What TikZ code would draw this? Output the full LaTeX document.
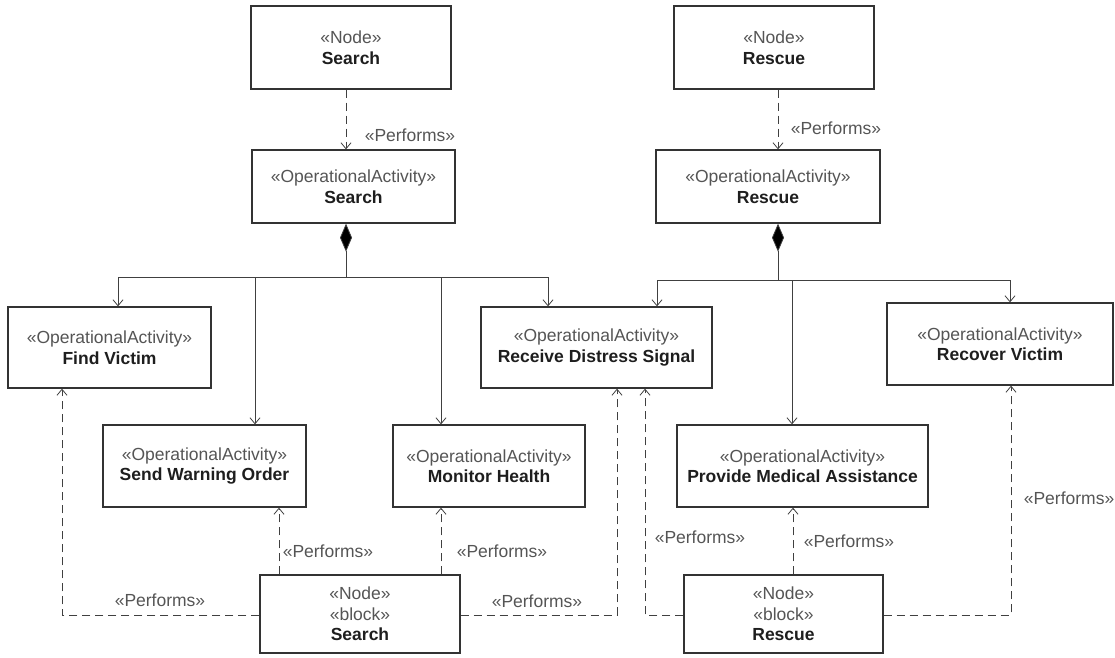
\documentclass[tikz,border=0pt]{standalone}
\usepackage{fontspec}
\setmainfont{Liberation Sans}
\usetikzlibrary{arrows.meta}
\definecolor{boxline}{HTML}{333333}
\definecolor{conline}{HTML}{404040}
\definecolor{stereo}{HTML}{555555}
\definecolor{nametext}{HTML}{1E1E1E}
\newcommand{\st}[1]{{\color{stereo}#1}}
\newcommand{\nm}[1]{{\color{nametext}\bfseries #1}}
\tikzset{
  elem/.style={draw=boxline, line width=1.3pt, fill=white, rectangle, align=center, inner sep=0pt,
    font=\fontsize{17.5}{20.5}\selectfont},
  arr/.style={draw=conline, line width=0.8pt, -{Straight Barb[length=6pt,width=10pt]}},
  perf/.style={draw=conline, line width=0.8pt, dash pattern=on 8pt off 5pt, -{Straight Barb[length=6pt,width=10pt]}},
  comp/.style={draw=conline, line width=0.8pt, {Diamond[length=28pt,width=12pt,fill=black]}-},
  lbl/.style={font=\fontsize{17.5}{20}\selectfont, text=stereo, inner sep=0pt}
}
\begin{document}
\begin{tikzpicture}[x=1pt,y=-1pt]
\useasboundingbox (0,0) rectangle (1115,657);
% nodes
\node[elem, minimum width=200pt, minimum height=83pt] (nsearch) at (351,47.5) {\st{«Node»}\\\nm{Search}};
\node[elem, minimum width=203pt, minimum height=73pt] (oasearch) at (353.5,186.5) {\st{«OperationalActivity»}\\\nm{Search}};
\node[elem, minimum width=200pt, minimum height=83pt] (nrescue) at (774,47.5) {\st{«Node»}\\\nm{Rescue}};
\node[elem, minimum width=224pt, minimum height=73pt] (oarescue) at (768,186.5) {\st{«OperationalActivity»}\\\nm{Rescue}};
\node[elem, minimum width=203pt, minimum height=81pt] (fv) at (109.5,347.5) {\st{«OperationalActivity»}\\\nm{Find Victim}};
\node[elem, minimum width=231pt, minimum height=81pt] (rds) at (596.5,347.5) {\st{«OperationalActivity»}\\\nm{Receive Distress Signal}};
\node[elem, minimum width=226pt, minimum height=82pt] (rv) at (1000,344) {\st{«OperationalActivity»}\\\nm{Recover Victim}};
\node[elem, minimum width=203pt, minimum height=82pt] (swo) at (204.5,466) {\st{«OperationalActivity»}\\\nm{Send Warning Order}};
\node[elem, minimum width=192pt, minimum height=82pt] (mh) at (489,466) {\st{«OperationalActivity»}\\\nm{Monitor Health}};
\node[elem, minimum width=251pt, minimum height=82pt] (pma) at (802.5,466) {\st{«OperationalActivity»}\\\nm{Provide Medical Assistance}};
\node[elem, minimum width=200pt, minimum height=78pt] (sblock) at (360,614) {\st{«Node»}\\\st{«block»}\\\nm{Search}};
\node[elem, minimum width=199pt, minimum height=78pt] (rblock) at (783.5,614) {\st{«Node»}\\\st{«block»}\\\nm{Rescue}};
% composition: Search
\coordinate (sbus) at ([xshift=-7.5pt,yshift=-54pt]oasearch.south);
\draw[comp] ([xshift=-7.5pt]oasearch.south) -- (sbus);
\draw[arr] (sbus) -| ([xshift=8.5pt]fv.north);
\draw[arr] (sbus) -| ([xshift=50.5pt]swo.north);
\draw[arr] (sbus) -| ([xshift=-48pt]mh.north);
\draw[arr] (sbus) -| ([xshift=-48.5pt]rds.north);
% composition: Rescue
\coordinate (rbus) at ([xshift=10pt,yshift=-57pt]oarescue.south);
\draw[comp] ([xshift=10pt]oarescue.south) -- (rbus);
\draw[arr] (rbus) -| ([xshift=60.5pt]rds.north);
\draw[arr] (rbus) -| ([xshift=-10.5pt]pma.north);
\draw[arr] (rbus) -| ([xshift=10pt]rv.north);
% performs
\draw[perf] ([xshift=-5pt]nsearch.south) -- ([xshift=-7.5pt]oasearch.north);
\draw[perf] ([xshift=4pt]nrescue.south) -- ([xshift=10pt]oarescue.north);
\draw[perf] ([yshift=-1pt]sblock.west) -| ([xshift=-47.5pt]fv.south);
\draw[perf] ([xshift=-81pt]sblock.north) -- ([xshift=74.5pt]swo.south);
\draw[perf] ([xshift=81pt]sblock.north) -- ([xshift=-48pt]mh.south);
\draw[perf] ([yshift=-1pt]sblock.east) -| ([xshift=20.5pt]rds.south);
\draw[perf] ([yshift=-1pt]rblock.west) -| ([xshift=48.5pt]rds.south);
\draw[perf] ([xshift=9.5pt]rblock.north) -- ([xshift=-9.5pt]pma.south);
\draw[perf] ([yshift=-1pt]rblock.east) -| ([xshift=11pt]rv.south);
% labels
\node[lbl] (l1) at (410,135) {«Performs»};
\node[lbl] (l2) at (836,128) {«Performs»};
\node[lbl] (l3) at (160,600) {«Performs»};
\node[lbl] (l4) at (328,551) {«Performs»};
\node[lbl] (l5) at (502,551) {«Performs»};
\node[lbl] (l6) at (537,601) {«Performs»};
\node[lbl] (l7) at (700,537) {«Performs»};
\node[lbl] (l8) at (849,541) {«Performs»};
\node[lbl] (l9) at (1069,498) {«Performs»};
\end{tikzpicture}
\end{document}
